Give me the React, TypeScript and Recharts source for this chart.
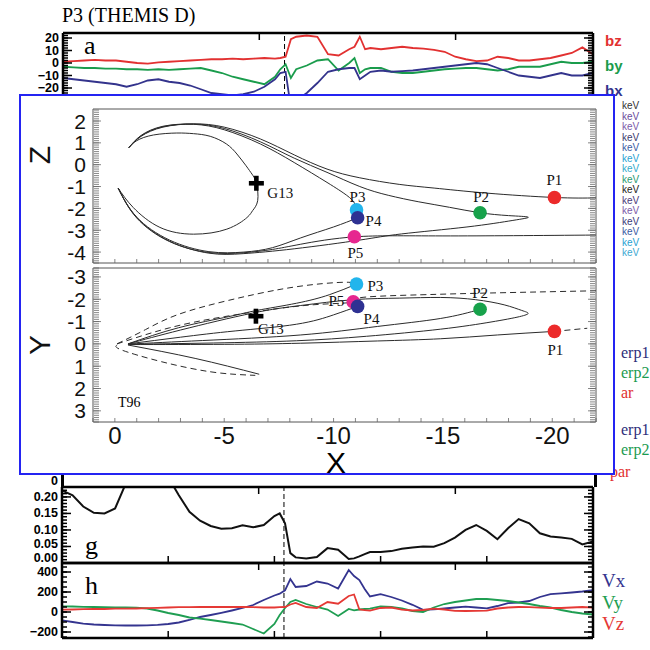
import React from "react";
import {
  LineChart,
  ComposedChart,
  Line,
  Scatter,
  XAxis,
  YAxis,
  ReferenceLine,
} from "recharts";

// ── time series (arbitrary time units across the interval) ──
const TIME = [
  0, 2, 4, 6, 8, 10, 12, 14, 16, 18, 20, 22, 24, 26, 28, 30, 32, 34, 36, 38,
  40, 41, 42, 43, 44, 46, 48, 50, 52, 54, 55, 56, 57, 58, 60, 62, 64, 66, 68, 70,
  72, 74, 76, 78, 80, 82, 84, 86, 88, 90, 92, 94, 96, 98, 100,
];
const ONSET_T = 41.8;
const T_TICKS = [0, 20, 40, 60, 80, 100];

const BZ = [
  1, 1.5, 2, 2.5, 2, 2, 1, 0, -0.5, 0.5, 1, 1.5, 2, 2.5, 3, 3, 3.5, 3, 3.5, 4,
  3.5, 4, 5, 19, 21, 22, 21, 7, 6, 11, 13, 21, 11, 12, 11, 12, 13, 12, 11.5, 10.5,
  9, 5, 3, 1.5, 2, 5, 4, 2, 2, 3, 4, 6, 8, 12.5, 7,
];
const BY = [
  -3, -3.5, -4, -4, -4.5, -4.5, -5, -5, -5.5, -5, -5.5, -5, -4.5, -4, -6, -8, -11, -13, -15, -17,
  -11, -5, -1, -12, -5, -2, 2, 3, -6, 0, 4, -8, -5, -4, -4, -7, -8, -8, -7, -6,
  -5, -4.5, -4, -4, -5, -6, -5, -3, -3, -3, -1, 1, 0, 0, 1,
];
const BX = [
  -12, -13, -14, -15, -16, -17, -19, -17, -14, -13, -15, -16, -18, -21, -24, -25, -26, -25, -23, -19,
  -13, -8, -7, -36, -30, -24, -16, -7, -5, -4, -4, -13, -10, -7, -6, -7, -6.5, -6, -5, -4,
  -3, -2, -1, 0, -1, -4, -7, -10, -11, -12, -10, -8, -10, -10, -8,
];
const G_VAL = [
  0.22, 0.205, 0.171, 0.152, 0.15, 0.165, 0.24, 0.3, 0.32, 0.3, 0.26, 0.205, 0.155, 0.128, 0.112, 0.104, 0.105, 0.114, 0.108, 0.115,
  0.142, 0.15, 0.12, 0.03, 0.017, 0.014, 0.018, 0.045, 0.04, 0.012, 0.014, 0.02, 0.027, 0.033, 0.033, 0.036, 0.043, 0.047, 0.05, 0.049,
  0.06, 0.077, 0.1, 0.115, 0.097, 0.072, 0.105, 0.133, 0.12, 0.09, 0.08, 0.077, 0.073, 0.056, 0.065,
];
const VX = [
  -83, -100, -117, -125, -130, -133, -135, -135, -133, -128, -120, -105, -80, -50, -30, -8, 15, 40, 70, 120,
  165, 183, 217, 330, 250, 260, 305, 285, 235, 420, 360, 320, 230, 155, 178, 150, 115, 72, 22, 27,
  35, 45, 53, 45, 37, 60, 88, 95, 110, 150, 178, 187, 195, 205, 218,
];
const VY = [
  57, 55, 52, 50, 48, 47, 45, 43, 35, 15, -10, -30, -55, -67, -80, -95, -110, -125, -170, -215,
  -120, -30, 40, 100, 120, 80, 50, 25, -40, 30, 17, 25, 30, 33, 57, 50, 35, 10, 0, 45,
  80, 100, 115, 130, 130, 120, 110, 95, 80, 60, 45, 20, 0, -15, -25,
];
const VZ = [
  23, 25, 28, 30, 30, 33, 33, 35, 38, 42, 45, 48, 48, 50, 50, 50, 50, 50, 48, 45,
  45, 48, 50, 75, 90, 50, 40, 100, 83, 160, 175, 25, 18, 13, 40, 45, 23, 15, 20, 33,
  25, 12, 10, 12, 13, 35, 45, 50, 48, 43, 40, 40, 45, 50, 43,
];

const A_TICKS = [-20, -10, 0, 10, 20];
const G_TICKS = [0, 0.05, 0.1, 0.15, 0.2];
const H_TICKS = [-200, 0, 200, 400];

// ── T96 field line traces, [X, Z] and [X, Y] in Re ──
const XZ_TO_P1 = [[-0.64, 0.78], [-1.2, 1.3], [-2.2, 1.72], [-3.6, 1.87], [-5, 1.72], [-6.65, 1.18], [-8.2, 0.45], [-9.7, -0.2], [-11.2, -0.6], [-13, -0.9], [-14.6, -1.07], [-17, -1.3], [-20.1, -1.5], [-22, -1.52]];
const XZ_TO_P2 = [[-0.64, 0.78], [-1.2, 1.32], [-2.2, 1.74], [-3.6, 1.86], [-5, 1.66], [-6.65, 1.05], [-8.2, 0.3], [-9.7, -0.35], [-11.2, -1.0], [-12.5, -1.4], [-13.9, -1.7], [-15.3, -1.95], [-16.7, -2.2], [-18, -2.33], [-18.9, -2.4], [-18.2, -2.55], [-16.1, -2.85], [-13.1, -3.17], [-11.2, -3.45], [-8.2, -3.85], [-5.9, -4.07], [-4.3, -4.05], [-2.5, -3.5], [-1, -2.42], [-0.15, -1.07]];
const XZ_TO_P3 = [[-0.64, 0.78], [-1.2, 1.34], [-2.2, 1.76], [-3.6, 1.85], [-5, 1.6], [-6.65, 0.95], [-8.2, 0.1], [-9.7, -0.81], [-10.6, -1.4], [-10.95, -1.75], [-11.05, -2.07]];
const XZ_G13 = [[-0.64, 0.78], [-1.0, 1.1], [-1.76, 1.36], [-2.83, 1.45], [-3.6, 1.42], [-4.36, 1.3], [-5.1, 0.95], [-5.58, 0.49], [-6.0, -0.05], [-6.27, -0.43], [-6.47, -0.85], [-6.53, -1.65], [-6.3, -2.1], [-6.04, -2.42], [-5.12, -2.95], [-3.6, -3.18], [-2.06, -2.87], [-0.84, -1.96], [-0.15, -1.07]];
const XZ_TO_P4 = [[-0.15, -1.07], [-1, -2.4], [-2.5, -3.45], [-4.3, -3.98], [-5.9, -4.0], [-7.2, -3.8], [-8.5, -3.35], [-10, -2.85], [-11.1, -2.43]];
const XZ_TO_P5 = [[-0.15, -1.07], [-1, -2.44], [-2.5, -3.52], [-4.3, -4.02], [-5.9, -4.03], [-7.2, -3.88], [-8.5, -3.64], [-11, -3.3], [-15, -3.26], [-22, -3.22]];

const XY_TO_P3 = [[-0.6, 0], [-2.9, -0.72], [-5.2, -1.22], [-6.5, -1.5], [-8.3, -1.82], [-9.8, -2.2], [-11.05, -2.68]];
const XY_LOOP = [[-0.6, 0], [-3, -0.62], [-6.3, -1.38], [-8.5, -1.72], [-10.9, -1.98], [-13, -2.05], [-14.9, -2.08], [-16.5, -1.98], [-17.8, -1.75], [-18.6, -1.5], [-18.9, -1.37], [-18.5, -1.22], [-17.2, -0.98], [-14.9, -0.66], [-11.5, -0.34], [-8.3, -0.14], [-4.5, -0.04], [-0.6, 0.02]];
const XY_TO_P4 = [[-0.6, 0], [-3, -0.3], [-5.5, -0.58], [-8.3, -0.88], [-10, -1.3], [-11.1, -1.68]];
const XY_TO_P2 = [[-0.6, 0.01], [-4, -0.15], [-8.5, -0.4], [-12, -0.78], [-14.9, -1.14], [-16.7, -1.55]];
const XY_TO_P1 = [[-0.6, 0.03], [-5, 0.02], [-8.5, -0.03], [-12, -0.13], [-14.9, -0.23], [-17.5, -0.4], [-20.1, -0.56]];
const XY_G13_LOW = [[-0.6, 0.05], [-3.67, 0.65], [-6.6, 1.36]];
const XY_DASH_P3 = [[-0.1, 0], [-1.4, -0.64], [-2.9, -1.32], [-5.2, -1.95], [-7.6, -2.45], [-9.5, -2.7], [-10.7, -2.76], [-11.05, -2.68]];
const XY_DASH_P5 = [[-0.1, 0], [-2.5, -0.72], [-5, -1.22], [-7.6, -1.6], [-9.5, -1.78], [-10.95, -1.88], [-11.3, -2.08], [-14, -2.2], [-16.7, -2.27], [-22, -2.38]];
const XY_DASH_P1 = [[-20.1, -0.56], [-21.6, -0.7]];
const XY_DASH_LOW = [[-0.1, 0.05], [-0.3, 0.27], [-2.14, 0.8], [-4.44, 1.26], [-6.42, 1.41]];

const XZ_POINTS = [
  { name: "P1", x: -20.1, y: -1.5 },
  { name: "P2", x: -16.7, y: -2.2 },
  { name: "P3", x: -11.05, y: -2.07 },
  { name: "P5", x: -10.95, y: -3.3 },
  { name: "P4", x: -11.1, y: -2.43 },
];
const XY_POINTS = [
  { name: "P1", x: -20.1, y: -0.56 },
  { name: "P2", x: -16.7, y: -1.55 },
  { name: "P3", x: -11.05, y: -2.68 },
  { name: "P5", x: -10.9, y: -1.88 },
  { name: "P4", x: -11.1, y: -1.68 },
];
const XZ_G13_POS = [{ name: "G13", x: -6.47, y: -0.85 }];
const XY_G13_POS = [{ name: "G13", x: -6.45, y: -1.24 }];

const X_LABEL_TICKS = [0, -5, -10, -15, -20];
const Z_TICKS = [-4, -3, -2, -1, 0, 1, 2];
const Y_TICKS = [-3, -2, -1, 0, 1, 2, 3];

const KEV_COLORS = ["#333", "#6a4c9c", "#7b5ba9", "#3b3b6e", "#3b5ca3", "#29a2d2", "#33aacb", "#2a9a72", "#222", "#4b3b7c", "#7b5ba9", "#3b3b7c", "#3b5ca3", "#29a2d2", "#40a9d2"];

// ── styling ──
const SERIF = "'Liberation Serif','Times New Roman',serif";
const SANS = "'Liberation Sans',Arial,sans-serif";
const NARROW = "'Liberation Sans Narrow','Liberation Sans',Arial,sans-serif";

const POINT_COLOR: Record<string, string> = {
  P1: "#ec2a2a",
  P2: "#17a24b",
  P3: "#22b5ec",
  P4: "#2e3192",
  P5: "#e6278f",
};
const XZ_LABEL_POS: Record<string, any> = {
  P1: { dx: 0, dy: -17, anchor: "middle" },
  P2: { dx: 1, dy: -16, anchor: "middle" },
  P3: { dx: 1, dy: -13, anchor: "middle" },
  P4: { dx: 8, dy: 3, anchor: "start" },
  P5: { dx: 1, dy: 16, anchor: "middle" },
  G13: { dx: 11, dy: 10, anchor: "start" },
};
const XY_LABEL_POS: Record<string, any> = {
  P1: { dx: 1, dy: 19, anchor: "middle" },
  P2: { dx: 0, dy: -16, anchor: "middle" },
  P3: { dx: 11, dy: 2, anchor: "start" },
  P4: { dx: 6, dy: 13, anchor: "start" },
  P5: { dx: -9, dy: -1, anchor: "end" },
  G13: { dx: 2, dy: 13, anchor: "start" },
};
// small vertical nudges for crowded value labels at the bottom of panel g
const G_LABEL_NUDGE: Record<string, number> = { "0": -5, "0.05": -2 };

const steps = (a: number, b: number, s: number) => {
  const n = Math.round((b - a) / s);
  return Array.from({ length: n + 1 }, (_, i) => Math.round((a + i * s) * 1000) / 1000);
};
const pts = (arr: number[][]) => arr.map(([x, y]) => ({ x, y }));
const minus = (v: number) => (v < 0 ? `\u2212${Math.abs(v)}` : String(v));
const hideTick = () => <g />;

function Txt({ x, y, size, color = "#000", family = SERIF, weight = 400, anchor = "start", children }: any) {
  const sx = anchor === "middle" ? "-50%" : anchor === "end" ? "-100%" : "0";
  return (
    <div
      style={{
        position: "absolute",
        left: x,
        top: y,
        transform: `translate(${sx}, -50%)`,
        fontSize: size,
        lineHeight: 1,
        color,
        fontFamily: family,
        fontWeight: weight,
        whiteSpace: "nowrap",
      }}
    >
      {children}
    </div>
  );
}

// left-hand value labels of the time panels
const valueTick = (fmt: (v: number) => string, nudge: Record<string, number>) => (p: any) => {
  const v = p.payload.value;
  const dy = nudge[String(v)] || 0;
  return (
    <text x={p.x} y={p.y + dy} textAnchor="end" dominantBaseline="central" fontSize={12.5} fontWeight={700} fontFamily={NARROW} fill="#000">
      {fmt(v)}
    </text>
  );
};

// frame + ticks for the stacked time panels (ticks point inward)
function timeAxes(domain: [number, number], major: number[], minor: number[], fmt: (v: number) => string, nudge: Record<string, number> = {}) {
  const frame = { stroke: "#000", strokeWidth: 2.5 };
  const tl = { stroke: "#000", strokeWidth: 1.5 };
  const common = { type: "number" as const, domain, allowDataOverflow: true, interval: 0 as const };
  return [
    <XAxis key="xb" xAxisId="x" type="number" dataKey="t" domain={[0, 100]} allowDataOverflow ticks={T_TICKS} interval={0} mirror tick={hideTick} tickSize={7} axisLine={frame} tickLine={tl} />,
    <XAxis key="xt" xAxisId="xt" orientation="top" type="number" domain={[0, 100]} allowDataOverflow ticks={T_TICKS} interval={0} mirror tick={hideTick} tickSize={7} axisLine={frame} tickLine={tl} />,
    <YAxis key="y" yAxisId="y" {...common} ticks={major} width={45} tickSize={0} tickMargin={4} axisLine={false} tickLine={false} tick={valueTick(fmt, nudge)} />,
    <YAxis key="yl1" yAxisId="yl1" {...common} ticks={major} width={1} mirror tick={hideTick} tickSize={9} axisLine={frame} tickLine={tl} />,
    <YAxis key="yl2" yAxisId="yl2" {...common} ticks={minor} width={1} mirror tick={hideTick} tickSize={4} axisLine={false} tickLine={tl} />,
    <YAxis key="yr1" yAxisId="yr1" orientation="right" {...common} ticks={major} width={1} mirror tick={hideTick} tickSize={9} axisLine={frame} tickLine={tl} />,
    <YAxis key="yr2" yAxisId="yr2" orientation="right" {...common} ticks={minor} width={1} mirror tick={hideTick} tickSize={4} axisLine={false} tickLine={tl} />,
  ];
}

const X_DOMAIN: [number, number] = [-22, 1];
const X_MINOR = steps(-22, 1, 1);

// Y/Z labels sit left of the frame, X labels below it
const insetYTick = (p: any) => (
  <text x={p.x - 15} y={p.y} textAnchor="end" dominantBaseline="central" fontSize={21} fontFamily={NARROW} fill="#111">
    {String(p.payload.value)}
  </text>
);
const insetXTick = (p: any) =>
  X_LABEL_TICKS.includes(p.payload.value) ? (
    <text x={p.x} y={p.y + 26} textAnchor="middle" fontSize={24} fontFamily={NARROW} fill="#111">
      {String(p.payload.value)}
    </text>
  ) : (
    <g />
  );

// frame + ticks for the two T96 projection panels
function insetAxes(domain: [number, number], reversed: boolean, major: number[], minor: number[], xLabels: boolean) {
  const frame = { stroke: "#555", strokeWidth: 1 };
  const tl = { stroke: "#666", strokeWidth: 0.8 };
  const common = { type: "number" as const, domain, reversed, allowDataOverflow: true, interval: 0 as const };
  const xc = { type: "number" as const, domain: X_DOMAIN, reversed: true, allowDataOverflow: true, interval: 0 as const };
  return [
    <XAxis key="xb" xAxisId="x" dataKey="x" {...xc} ticks={X_MINOR} mirror tick={xLabels ? insetXTick : hideTick} tickSize={4} tickMargin={0} axisLine={frame} tickLine={tl} />,
    <XAxis key="xt" xAxisId="xt" orientation="top" {...xc} ticks={X_MINOR} mirror tick={hideTick} tickSize={4} axisLine={frame} tickLine={tl} />,
    <YAxis key="y" yAxisId="y" dataKey="y" {...common} ticks={major} width={1} mirror tick={insetYTick} tickSize={8} tickMargin={0} axisLine={frame} tickLine={tl} />,
    <YAxis key="yl2" yAxisId="yl2" {...common} ticks={minor} width={1} mirror tick={hideTick} tickSize={5} axisLine={false} tickLine={tl} />,
    <YAxis key="yr1" yAxisId="yr1" orientation="right" {...common} ticks={major} width={1} mirror tick={hideTick} tickSize={8} axisLine={frame} tickLine={tl} />,
    <YAxis key="yr2" yAxisId="yr2" orientation="right" {...common} ticks={minor} width={1} mirror tick={hideTick} tickSize={5} axisLine={false} tickLine={tl} />,
  ];
}

const pointShape = (labels: Record<string, any>) => (props: any) => {
  const { cx, cy, payload } = props;
  const l = labels[payload.name];
  return (
    <g>
      <circle cx={cx} cy={cy} r={6.8} fill={POINT_COLOR[payload.name]} />
      <text x={cx + l.dx} y={cy + l.dy} textAnchor={l.anchor} dominantBaseline="central" fontSize={15} fontFamily={SERIF} fill="#111">
        {payload.name}
      </text>
    </g>
  );
};

const crossShape = (labels: Record<string, any>) => (props: any) => {
  const { cx, cy, payload } = props;
  const l = labels[payload.name];
  return (
    <g>
      <rect x={cx - 7.5} y={cy - 2.3} width={15} height={4.6} fill="#000" />
      <rect x={cx - 2.3} y={cy - 7.5} width={4.6} height={15} fill="#000" />
      <text x={cx + l.dx} y={cy + l.dy} textAnchor={l.anchor} dominantBaseline="central" fontSize={15} fontFamily={SERIF} fill="#111">
        {payload.name}
      </text>
    </g>
  );
};

function trace(key: string, arr: number[][], dashed = false) {
  return (
    <Line
      key={key}
      data={pts(arr)}
      dataKey="y"
      xAxisId="x"
      yAxisId="y"
      type="natural"
      stroke="#2b2b2b"
      strokeWidth={1}
      strokeDasharray={dashed ? "6 4" : undefined}
      dot={false}
      isAnimationActive={false}
    />
  );
}

const series = (key: string, color: string, width = 1.8) => (
  <Line key={key} dataKey={key} xAxisId="x" yAxisId="y" type="linear" stroke={color} strokeWidth={width} dot={false} isAnimationActive={false} />
);

const onset = <ReferenceLine key="onset" xAxisId="x" yAxisId="y" x={ONSET_T} stroke="#000" strokeWidth={1} strokeDasharray="5 3" />;

export default function App() {
  const rowsA = TIME.map((t, i) => ({ t, bz: BZ[i], by: BY[i], bx: BX[i] }));
  const rowsG = TIME.map((t, i) => ({ t, g: G_VAL[i] }));
  const rowsH = TIME.map((t, i) => ({ t, vx: VX[i], vy: VY[i], vz: VZ[i] }));

  return (
    <div style={{ position: "absolute", left: 0, top: 0, width: 650, height: 650, background: "#fff", overflow: "hidden" }}>
      <Txt x={62} y={15} size={20}>P3 (THEMIS D)</Txt>

      {/* panel a: magnetic field */}
      <div style={{ position: "absolute", left: 0, top: 0 }}>
        <LineChart width={650} height={120} data={rowsA} margin={{ top: 33, right: 57, bottom: 7, left: 18 }}>
          {timeAxes([-40, 24], A_TICKS, steps(-40, 24, 2), minus)}
          {onset}
          {series("bz", "#e23131")}
          {series("by", "#1a9c4c")}
          {series("bx", "#33338c")}
        </LineChart>
      </div>
      <Txt x={84} y={46} size={26}>a</Txt>
      <Txt x={605} y={40} size={15} color="#e23131" family={SANS} weight={700}>bz</Txt>
      <Txt x={605} y={65} size={15} color="#1a9c4c" family={SANS} weight={700}>by</Txt>
      <Txt x={605} y={90} size={15} color="#33338c" family={SANS} weight={700}>bx</Txt>

      {/* edge of the panel below the inset */}
      <div style={{ position: "absolute", left: 61, top: 470, width: 530, height: 17, borderLeft: "3px solid #000", borderRight: "3px solid #000" }} />
      <Txt x={58} y={481} size={12.5} family={NARROW} weight={700} anchor="end">0</Txt>
      <Txt x={610} y={472} size={16} color="#e23131">par</Txt>

      {/* panel g */}
      <div style={{ position: "absolute", left: 0, top: 480 }}>
        <LineChart width={650} height={90} data={rowsG} margin={{ top: 7, right: 57, bottom: 7, left: 17 }}>
          {timeAxes([0, 0.23], G_TICKS, steps(0, 0.23, 0.01), (v) => v.toFixed(2), G_LABEL_NUDGE)}
          {onset}
          {series("g", "#111", 2)}
        </LineChart>
      </div>
      <Txt x={85} y={546} size={26}>g</Txt>

      {/* panel h: plasma flow */}
      <div style={{ position: "absolute", left: 0, top: 556 }}>
        <LineChart width={650} height={90} data={rowsH} margin={{ top: 7, right: 57, bottom: 8, left: 17 }}>
          {timeAxes([-260, 490], H_TICKS, steps(-250, 450, 50), minus)}
          {onset}
          {series("vx", "#34348f")}
          {series("vy", "#1f9e52")}
          {series("vz", "#e53935")}
        </LineChart>
      </div>
      <Txt x={85} y={586} size={26}>h</Txt>
      <Txt x={602} y={580} size={19} color="#34348f">Vx</Txt>
      <Txt x={602} y={602} size={19} color="#1f9e52">Vy</Txt>
      <Txt x={602} y={623} size={19} color="#e53935">Vz</Txt>

      {/* inset with T96 projections */}
      <div style={{ position: "absolute", left: 19, top: 94, width: 592, height: 377, background: "#fff", border: "2.5px solid #2424f2" }} />

      <div style={{ position: "absolute", left: 20, top: 96 }}>
        <ComposedChart width={590} height={172} margin={{ top: 13, right: 14, bottom: 5, left: 73 }}>
          {insetAxes([-4.5, 2.55], false, Z_TICKS, steps(-4.5, 2.5, 0.1), false)}
          {trace("a", XZ_TO_P1)}
          {trace("b", XZ_TO_P2)}
          {trace("c", XZ_TO_P3)}
          {trace("g", XZ_G13)}
          {trace("d", XZ_TO_P4)}
          {trace("e", XZ_TO_P5)}
          <Scatter data={XZ_G13_POS} dataKey="y" xAxisId="x" yAxisId="y" shape={crossShape(XZ_LABEL_POS)} isAnimationActive={false} />
          <Scatter data={XZ_POINTS} dataKey="y" xAxisId="x" yAxisId="y" shape={pointShape(XZ_LABEL_POS)} isAnimationActive={false} />
        </ComposedChart>
      </div>

      <div style={{ position: "absolute", left: 20, top: 265 }}>
        <ComposedChart width={590} height={207} margin={{ top: 3, right: 14, bottom: 50, left: 73 }}>
          {insetAxes([-3.4, 3.5], true, Y_TICKS, steps(-3.4, 3.5, 0.1), true)}
          {trace("dp3", XY_DASH_P3, true)}
          {trace("dp5", XY_DASH_P5, true)}
          {trace("dp1", XY_DASH_P1, true)}
          {trace("dlow", XY_DASH_LOW, true)}
          {trace("p3", XY_TO_P3)}
          {trace("loop", XY_LOOP)}
          {trace("p4", XY_TO_P4)}
          {trace("p2", XY_TO_P2)}
          {trace("p1", XY_TO_P1)}
          {trace("low", XY_G13_LOW)}
          <Scatter data={XY_G13_POS} dataKey="y" xAxisId="x" yAxisId="y" shape={crossShape(XY_LABEL_POS)} isAnimationActive={false} />
          <Scatter data={XY_POINTS} dataKey="y" xAxisId="x" yAxisId="y" shape={pointShape(XY_LABEL_POS)} isAnimationActive={false} />
        </ComposedChart>
      </div>

      <Txt x={118} y={403} size={14}>T96</Txt>
      <div style={{ position: "absolute", left: 40, top: 155, transform: "translate(-50%, -50%) rotate(-90deg)", fontSize: 30, lineHeight: 1, fontFamily: SANS, color: "#111" }}>Z</div>
      <div style={{ position: "absolute", left: 40, top: 345, transform: "translate(-50%, -50%) rotate(-90deg)", fontSize: 30, lineHeight: 1, fontFamily: SANS, color: "#111" }}>Y</div>
      <Txt x={336} y={463} size={30} family={SANS} anchor="middle">X</Txt>

      {/* channel labels right of the inset */}
      {KEV_COLORS.map((c, i) => (
        <Txt key={i} x={622} y={106 + i * 10.5} size={10} color={c} family={SANS}>keV</Txt>
      ))}
      <Txt x={621} y={353} size={16} color="#2e2e7a">erp1</Txt>
      <Txt x={621} y={373} size={16} color="#1a9a50">erp2</Txt>
      <Txt x={621} y={393} size={16} color="#e03030">ar</Txt>
      <Txt x={621} y={430} size={16} color="#2e2e7a">erp1</Txt>
      <Txt x={621} y={450} size={16} color="#1a9a50">erp2</Txt>
    </div>
  );
}
